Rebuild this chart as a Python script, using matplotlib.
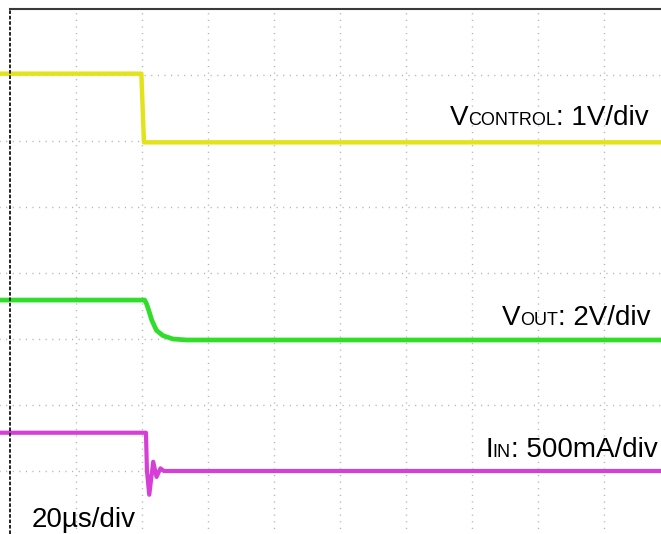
import numpy as np
import matplotlib.pyplot as plt
from matplotlib.lines import Line2D
from matplotlib.transforms import IdentityTransform

plt.rcParams['font.family'] = ['Liberation Sans', 'DejaVu Sans']

# scope traces, in divisions (x: time div, y: vertical div from bottom)
yellow_t = [-0.2, 1.99, 2.03, 10.0]
yellow_v = [7.02, 7.02, 5.98, 5.98]

green_t = [-0.2, 2.04, 2.07, 2.10, 2.15, 2.22, 2.32, 2.47, 2.68, 10.0]
green_v = [3.59, 3.59, 3.53, 3.44, 3.28, 3.13, 3.05, 3.00, 2.985, 2.985]

magenta_t = [-0.2, 2.06, 2.075, 2.11, 2.17, 2.22, 2.28, 2.33, 10.0]
magenta_v = [1.58, 1.58, 1.0, 0.64, 1.14, 0.91, 1.04, 1.0, 1.0]

W, H = 661, 534
fig = plt.figure(figsize=(W / 100, H / 100), dpi=100)
ax = fig.add_axes([0, 0, 1, 1])
ax.axis('off')

# screen: 66 px per division, graticule starts at (10, 9) px from top-left
ax.set_xlim(-10 / 66, (W - 10) / 66)
ax.set_ylim(8 - (H - 9) / 66, 8 + 9 / 66)

# dotted graticule
for i in range(1, 10):
    ax.plot([i, i], [-1, 8], color='#b0b0b0', lw=1.0, ls=(0, (0.8, 3.95)),
            zorder=1, scalex=False, scaley=False)
for j in range(0, 8):
    ax.plot([-1, 11], [j, j], color='#b0b0b0', lw=1.0, ls=(0, (0.8, 3.95)),
            zorder=1, scalex=False, scaley=False)

# traces
ax.plot(yellow_t, yellow_v, color='#e3e31c', lw=3.2, zorder=3, scalex=False, scaley=False)
ax.plot(green_t, green_v, color='#30dd2a', lw=3.4, zorder=3, scalex=False, scaley=False)
ax.plot(magenta_t, magenta_v, color='#d63fd6', lw=3.0, zorder=3, scalex=False, scaley=False)

# frame (top solid, left dashed) in figure pixels
fig.add_artist(Line2D([10, W], [H - 9, H - 9], transform=IdentityTransform(),
                      color='#3a3a3a', lw=1.5, zorder=5))
fig.add_artist(Line2D([10, 10], [0, H - 9], transform=IdentityTransform(),
                      color='#111111', lw=1.3, ls=(0, (2, 1)), zorder=5))

fig.canvas.draw()
r = fig.canvas.get_renderer()


def label(x_px, base_px, parts):
    x = x_px
    for s, size in parts:
        t = fig.text(x, H - base_px, s, fontsize=size, ha='left', va='baseline',
                     transform=IdentityTransform(), color='black')
        x += t.get_window_extent(r).width


label(450, 125, [('V', 20), ('CONTROL', 13), (': 1V/div', 20)])
label(502, 325, [('V', 20), ('OUT', 13), (': 2V/div', 20)])
label(485, 457, [('I', 20), ('IN', 13), (': 500mA/div', 20)])
label(32, 527, [('20µs/div', 20)])

fig.savefig('out.png', dpi=100)
